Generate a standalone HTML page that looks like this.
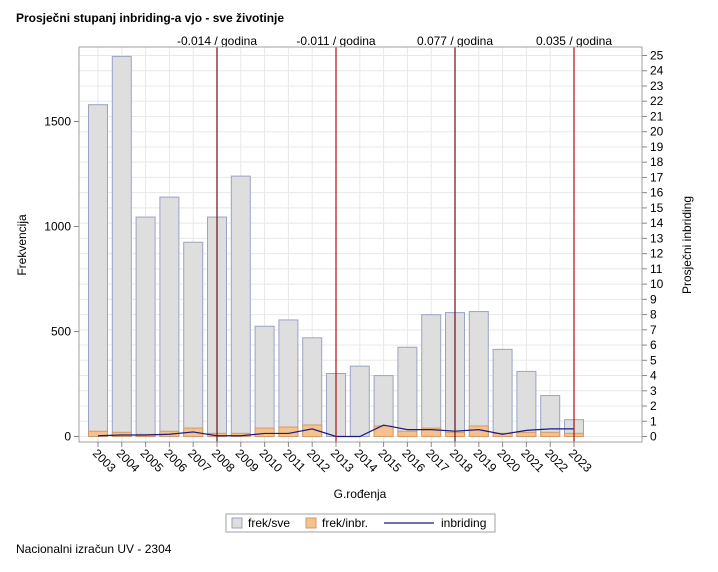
<!DOCTYPE html>
<html><head><meta charset="utf-8"><style>
body{margin:0;background:#fff;font-family:"Liberation Sans",Arial,sans-serif;}
svg text{font-family:"Liberation Sans",Arial,sans-serif;}
</style></head><body>
<svg id="c" width="718" height="567" xmlns="http://www.w3.org/2000/svg">
<text x="16" y="22" font-size="12" font-weight="bold" fill="#000">Prosječni stupanj inbriding-a vjo - sve životinje</text>
<text x="16" y="553" font-size="12" fill="#000">Nacionalni izračun UV - 2304</text>
<g id="plot"></g>
</svg>
<script>
const years=["2003","2004","2005","2006","2007","2008","2009","2010","2011","2012","2013","2014","2015","2016","2017","2018","2019","2020","2021","2022","2023"];
const frekSve=[1580,1810,1045,1140,925,1045,1240,525,555,470,300,335,290,425,580,590,595,415,310,195,80];
const frekInbr=[25,20,10,25,40,15,15,40,45,55,0,0,50,25,40,20,50,15,20,20,15];
const inbriding=[0.05,0.1,0.1,0.15,0.3,0.05,0.05,0.2,0.2,0.5,0,0,0.75,0.45,0.45,0.35,0.45,0.15,0.4,0.5,0.5];
const leftTicks=[0,500,1000,1500];
const rightTicks=[0,1,2,3,4,5,6,7,8,9,10,11,12,13,14,15,16,17,18,19,20,21,22,23,24,25];
const refYears=["2008","2013","2018","2023"];
const refLabels=["-0.014 / godina","-0.011 / godina","0.077 / godina","0.035 / godina"];
const refColors=["#6b1020","#b01010","#6b1020","#b01010"];

const NS="http://www.w3.org/2000/svg";
const g=document.getElementById('plot');
const L=79,T=47,R=642,B=442,Y0=436.5;
const xS=i=>98+i*23.8;
const yL=v=>Y0-v*0.21;
const yR=v=>Y0-v*15.24;
function mk(tag,a,parent){const e=document.createElementNS(NS,tag);for(const k in a)e.setAttribute(k,a[k]);(parent||g).appendChild(e);return e;}

// grid
rightTicks.forEach(t=>{const e=mk('line',{x1:L,x2:R,y1:yR(t),y2:yR(t),stroke:'#e8e8e8','stroke-width':1});

});
years.forEach((y,i)=>{const e=mk('line',{x1:xS(i),x2:xS(i),y1:T,y2:B,stroke:'#e8e8e8','stroke-width':1});

});

// bars
const bw=19;
years.forEach((y,i)=>{
 const h=frekSve[i]*0.21;
 const b=mk('rect',{x:xS(i)-bw/2,y:yL(frekSve[i]),width:bw,height:h,fill:'#dedede',stroke:'#9ba3c8','stroke-width':1});
 
 
 const o=mk('rect',{x:xS(i)-bw/2,y:yL(frekInbr[i]),width:bw,height:Math.max(frekInbr[i]*0.21,0),fill:'#f5c28e',stroke:'#d49a6a','stroke-width':1});
 
 
});

// line
const pts=inbriding.map((v,i)=>xS(i)+','+yR(v)).join(' ');
const pl=mk('polyline',{points:pts,fill:'none',stroke:'#1a1a80','stroke-width':1.2});



// reference lines
refYears.forEach((y,k)=>{
 const i=years.indexOf(y);const x=xS(i);
 const l=mk('line',{x1:x,x2:x,y1:T,y2:B,stroke:refColors[k],'stroke-width':1.2});
 
 
 const t=mk('text',{x:x,y:45,'font-size':12,'text-anchor':'middle',fill:'#000'});
 t.textContent=refLabels[k];
 
 
});

// frame
const f=mk('rect',{x:L,y:T,width:R-L,height:B-T,fill:'none',stroke:'#a0a0a0','stroke-width':1});



// left axis
leftTicks.forEach(t=>{
 mk('line',{x1:L-5,x2:L,y1:yL(t),y2:yL(t),stroke:'#888'});
 const e=mk('text',{x:L-8,y:yL(t)+4,'font-size':12,'text-anchor':'end',fill:'#000'});
 e.textContent=t;
 
 
});
// right axis
rightTicks.forEach(t=>{
 mk('line',{x1:R,x2:R+5,y1:yR(t),y2:yR(t),stroke:'#888'});
 const e=mk('text',{x:R+8,y:yR(t)+4,'font-size':12,fill:'#000'});
 e.textContent=t;
 
 
});
// x axis
years.forEach((y,i)=>{
 mk('line',{x1:xS(i),x2:xS(i),y1:B,y2:B+5,stroke:'#888'});
 const e=mk('text',{x:0,y:0,'font-size':12,fill:'#000',transform:`translate(${xS(i)-6},${B+12}) rotate(45)`});
 e.textContent=y;
 
 
});
let e;
e=mk('text',{x:360,y:498,'font-size':12,'text-anchor':'middle',fill:'#000'});e.textContent='G.rođenja';


e=mk('text',{x:0,y:0,'font-size':12,'text-anchor':'middle',fill:'#000',transform:'translate(26,245) rotate(-90)'});e.textContent='Frekvencija';


e=mk('text',{x:0,y:0,'font-size':12,'text-anchor':'middle',fill:'#000',transform:'translate(691,245) rotate(-90)'});e.textContent='Prosječni inbriding';



// legend
const lg=mk('g',{});


mk('rect',{x:226,y:514,width:269,height:18,fill:'#fff',stroke:'#a0a0a0'},lg);
mk('rect',{x:232,y:518,width:10,height:10,fill:'#dedede',stroke:'#9ba3c8'},lg);
e=mk('text',{x:248,y:527,'font-size':12,fill:'#000'},lg);e.textContent='frek/sve';


mk('rect',{x:306,y:518,width:10,height:10,fill:'#f5c28e',stroke:'#d49a6a'},lg);
e=mk('text',{x:322,y:527,'font-size':12,fill:'#000'},lg);e.textContent='frek/inbr.';


mk('line',{x1:384,x2:434,y1:523,y2:523,stroke:'#1a1a80','stroke-width':1.2},lg);
e=mk('text',{x:441,y:527,'font-size':12,fill:'#000'},lg);e.textContent='inbriding';


</script>
</body></html>
